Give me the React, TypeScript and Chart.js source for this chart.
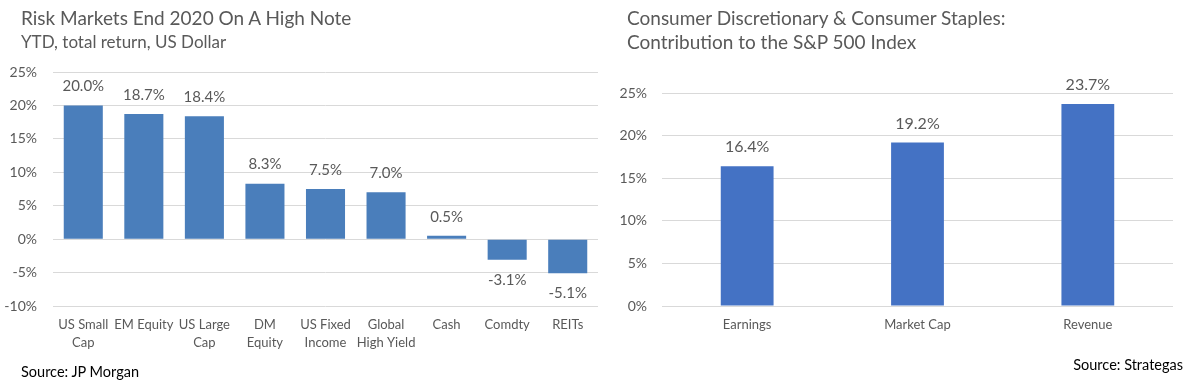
import React, { useEffect, useRef } from "react";
import { Chart, registerables } from "chart.js";

Chart.register(...registerables);

// ---- Data ----
const leftTitle = "Risk Markets End 2020 On A High Note";
const leftSubtitle = "YTD, total return, US Dollar";
const leftCategories = [
  ["US Small", "Cap"],
  ["EM Equity"],
  ["US Large", "Cap"],
  ["DM", "Equity"],
  ["US Fixed", "Income"],
  ["Global", "High Yield"],
  ["Cash"],
  ["Comdty"],
  ["REITs"],
];
const leftValues = [20.0, 18.7, 18.4, 8.3, 7.5, 7.0, 0.5, -3.1, -5.1];
const leftAxis = { min: -10, max: 25, step: 5 };
const leftSource = "Source: JP Morgan";

const rightTitleLines = [
  "Consumer Discretionary & Consumer Staples:",
  "Contribution to the S&P 500 Index",
];
const rightCategories = ["Earnings", "Market Cap", "Revenue"];
const rightValues = [16.4, 19.2, 23.7];
const rightAxis = { min: 0, max: 25, step: 5 };
const rightSource = "Source: Strategas";

const FONT = "Lato, 'Noto Sans', sans-serif";
const GREY = "#595959";

function valueLabelPlugin(size: number, up: number, down: number) {
  return {
    id: "valueLabels",
    afterDatasetsDraw(chart: any) {
      const ctx = chart.ctx;
      const meta = chart.getDatasetMeta(0);
      const data = chart.data.datasets[0].data as number[];
      ctx.save();
      ctx.font = `${size}px ${FONT}`;
      ctx.fillStyle = GREY;
      ctx.textAlign = "center";
      ctx.textBaseline = "middle";
      meta.data.forEach((el: any, i: number) => {
        const v = data[i];
        const y = v >= 0 ? el.y - up : el.y + down;
        ctx.fillText(v.toFixed(1) + "%", el.x, y);
      });
      ctx.restore();
    },
  };
}

interface BarProps {
  labels: any[];
  values: number[];
  color: string;
  axis: { min: number; max: number; step: number };
  width: number;
  height: number;
  padding: { left: number; right: number; top: number; bottom: number };
  yWidth: number;
  yPad: number;
  xHeight: number;
  barPct: number;
  labelSize: number;
}

function BarChart(p: BarProps) {
  const ref = useRef<HTMLCanvasElement>(null);
  useEffect(() => {
    if (!ref.current) return;
    const chart = new Chart(ref.current, {
      type: "bar",
      data: {
        labels: p.labels,
        datasets: [
          {
            data: p.values,
            backgroundColor: p.color,
            borderWidth: 0,
            categoryPercentage: 1,
            barPercentage: p.barPct,
          },
        ],
      },
      options: {
        responsive: false,
        animation: false,
        devicePixelRatio: 1,
        layout: { padding: p.padding },
        plugins: {
          legend: { display: false },
          tooltip: { enabled: false },
        },
        scales: {
          x: {
            grid: { display: false, drawTicks: false },
            border: { display: false },
            ticks: {
              color: GREY,
              padding: 10,
              maxRotation: 0,
              autoSkip: false,
              font: { family: FONT, size: 13, lineHeight: "18px" as any },
            },
            afterFit: (s: any) => {
              s.height = p.xHeight;
            },
          },
          y: {
            min: p.axis.min,
            max: p.axis.max,
            grid: { color: "#d9d9d9", lineWidth: 1, drawTicks: false },
            border: { display: false },
            ticks: {
              stepSize: p.axis.step,
              color: GREY,
              padding: p.yPad,
              font: { family: FONT, size: 14 },
              callback: (v: any) => v + "%",
            },
            afterFit: (s: any) => {
              s.width = p.yWidth;
            },
          },
        },
      },
      plugins: [valueLabelPlugin(p.labelSize, 19, 20)],
    });
    return () => chart.destroy();
  }, []);
  return (
    <canvas
      ref={ref}
      width={p.width}
      height={p.height}
      style={{ width: p.width, height: p.height, display: "block" }}
    />
  );
}

export default function App() {
  const abs = (s: React.CSSProperties): React.CSSProperties => ({
    position: "absolute",
    margin: 0,
    whiteSpace: "nowrap",
    fontFamily: FONT,
    ...s,
  });
  return (
    <div
      style={{
        position: "absolute",
        left: 0,
        top: 0,
        width: 1198,
        height: 392,
        background: "#fff",
        overflow: "hidden",
      }}
    >
      <div style={{ position: "absolute", left: 0, top: 0 }}>
        <BarChart
          labels={leftCategories}
          values={leftValues}
          color="#4a7ebb"
          axis={leftAxis}
          width={600}
          height={392}
          padding={{ left: 0, right: 2, top: 72, bottom: 36 }}
          yWidth={53}
          yPad={16}
          xHeight={50}
          barPct={0.645}
          labelSize={15}
        />
      </div>
      <div style={{ position: "absolute", left: 600, top: 0 }}>
        <BarChart
          labels={rightCategories}
          values={rightValues}
          color="#4472c4"
          axis={rightAxis}
          width={598}
          height={392}
          padding={{ left: 0, right: 25, top: 93, bottom: 36 }}
          yWidth={62}
          yPad={15}
          xHeight={50}
          barPct={0.31}
          labelSize={16}
        />
      </div>
      <div style={abs({ left: 21, top: 8, fontSize: 19, lineHeight: "20px", color: GREY })}>
        {leftTitle}
      </div>
      <div style={abs({ left: 21, top: 32, fontSize: 17, lineHeight: "20px", color: GREY })}>
        {leftSubtitle}
      </div>
      <div style={abs({ left: 627, top: 6, fontSize: 19, lineHeight: "24px", color: GREY })}>
        {rightTitleLines.map((l, i) => (
          <div key={i}>{l}</div>
        ))}
      </div>
      <div style={abs({ left: 21, top: 362, fontSize: 14.5, lineHeight: "20px", color: "#000" })}>
        {leftSource}
      </div>
      <div style={abs({ right: 15, top: 355, fontSize: 14.5, lineHeight: "20px", color: "#000" })}>
        {rightSource}
      </div>
    </div>
  );
}
